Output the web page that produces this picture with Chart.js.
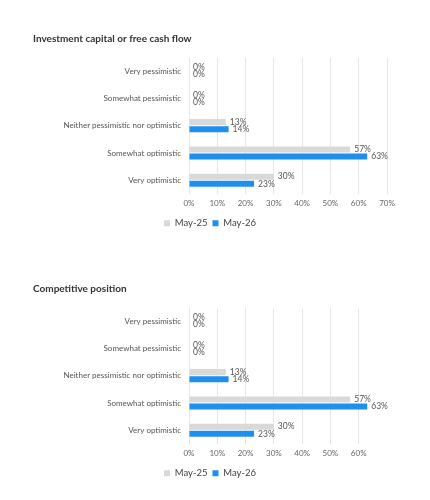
<!DOCTYPE html>
<html>
<head>
<meta charset="utf-8">
<script src="https://cdn.jsdelivr.net/npm/chart.js@4"></script>
<style>
  html, body { margin: 0; padding: 0; background: #fff; }
  .wrap { position: relative; width: 430px; height: 250px; }
</style>
</head>
<body>
<div class="wrap"><canvas id="cashChart"></canvas></div>
<div class="wrap"><canvas id="positionChart"></canvas></div>
<script>
const categories = ["Very pessimistic", "Somewhat pessimistic", "Neither pessimistic nor optimistic", "Somewhat optimistic", "Very optimistic"];
const seriesNames = ["May-25", "May-26"];
const cashMay25 = [0, 0, 13, 57, 30];
const cashMay26 = [0, 0, 14, 63, 23];
const positionMay25 = [0, 0, 13, 57, 30];
const positionMay26 = [0, 0, 14, 63, 23];
const tickValues = [0, 10, 20, 30, 40, 50, 60, 70];

const GRAY = "#d9d9d9";
const BLUE = "#1f8fef";
const FONT = "Lato";

// === Value labels at bar ends ===
const valueLabels = {
  id: "valueLabels",
  afterDatasetsDraw(chart) {
    const ctx = chart.ctx;
    ctx.save();
    ctx.font = "8.5px " + FONT;
    ctx.fillStyle = "#555";
    ctx.textBaseline = "middle";
    ctx.textAlign = "left";
    chart.data.datasets.forEach((ds, i) => {
      chart.getDatasetMeta(i).data.forEach((bar, j) => {
        ctx.fillText(ds.data[j] + "%", bar.x + 4, bar.y);
      });
    });
    ctx.restore();
  }
};

function makeChart(id, title, may25, may26, lastTick) {
  return new Chart(document.getElementById(id), {
    type: "bar",
    data: {
      labels: categories,
      datasets: [
        { label: seriesNames[0], data: may25, backgroundColor: GRAY },
        { label: seriesNames[1], data: may26, backgroundColor: BLUE }
      ]
    },
    options: {
      indexAxis: "y",
      responsive: true,
      maintainAspectRatio: false,
      animation: false,
      categoryPercentage: 0.52,
      barPercentage: 0.86,
      layout: { padding: { left: 33, right: 43, top: 0, bottom: 12 } },
      plugins: {
        title: {
          display: true, text: title, align: "start", color: "#333",
          font: { family: FONT, size: 10, weight: "bold" },
          padding: { top: 33, bottom: 12.5 }
        },
        legend: {
          position: "bottom",
          labels: {
            color: "#444", boxWidth: 6, boxHeight: 6, padding: 5,
            font: { family: FONT, size: 9.5 }
          }
        },
        tooltip: { enabled: false }
      },
      scales: {
        x: {
          min: 0, max: 70,
          afterBuildTicks: s => { s.ticks = tickValues.filter(v => v <= lastTick).map(v => ({ value: v })); },
          grid: { color: "#e6e6e6", drawTicks: false },
          border: { display: false },
          ticks: { color: "#666", padding: 5, font: { family: FONT, size: 8 }, callback: v => v + "%" }
        },
        y: {
          afterFit: s => { s.width = 156; },
          grid: { display: false, drawTicks: false },
          border: { display: false },
          ticks: { color: "#555", padding: 8, font: { family: FONT, size: 8 } }
        }
      }
    },
    plugins: [valueLabels]
  });
}

makeChart("cashChart", "Investment capital or free cash flow", cashMay25, cashMay26, 70);
makeChart("positionChart", "Competitive position", positionMay25, positionMay26, 60);
</script>
</body>
</html>
